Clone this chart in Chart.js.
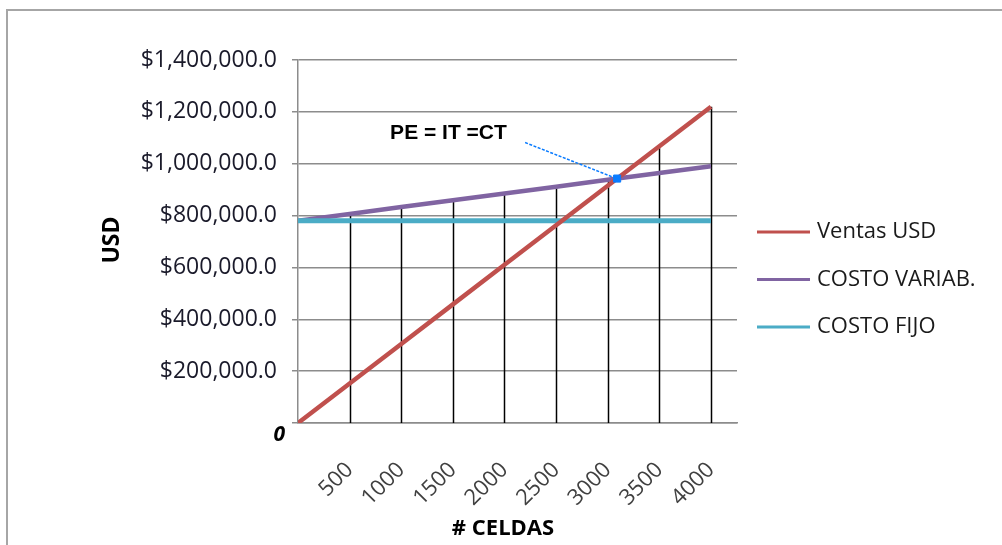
<!DOCTYPE html>
<html>
<head>
<meta charset="utf-8">
<title>Punto de equilibrio</title>
<script src="https://cdn.jsdelivr.net/npm/chart.js@4/dist/chart.umd.min.js"></script>
<style>
    body { margin: 0; background: #fff; }
    #wrap { position: relative; width: 1002px; height: 545px; }
</style>
</head>
<body>
<div id="wrap"><canvas id="equilibrioChart"></canvas></div>
<script>
    // Datos del gráfico
    var celdas = [0, 500, 1000, 1500, 2000, 2500, 3000, 3500, 4000];
    var ventasUSD = [0, 152500, 305000, 457500, 610000, 762500, 915000, 1067500, 1220000];
    var costoVariab = [780000, 806000, 833000, 859000, 885000, 911000, 938000, 964000, 990000];
    var costoFijo = [780000, 780000, 780000, 780000, 780000, 780000, 780000, 780000, 780000];
    var ticksY = [0, 200000, 400000, 600000, 800000, 1000000, 1200000, 1400000];
    var etiquetas = ['Ventas USD', 'COSTO VARIAB.', 'COSTO FIJO'];
    var colores = ['#C0504D', '#8064A2', '#4BACC6'];

    function puntos(serie) {
        return celdas.map(function (c, i) { return { x: c, y: serie[i] }; });
    }

    // Punto de equilibrio: cruce de ventas con costo total
    function cruce() {
        for (var i = 1; i < celdas.length; i++) {
            var d0 = ventasUSD[i - 1] - costoVariab[i - 1];
            var d1 = ventasUSD[i] - costoVariab[i];
            if (d0 < 0 && d1 >= 0) {
                var t = -d0 / (d1 - d0);
                return {
                    x: celdas[i - 1] + t * (celdas[i] - celdas[i - 1]),
                    y: ventasUSD[i - 1] + t * (ventasUSD[i] - ventasUSD[i - 1])
                };
            }
        }
        return null;
    }
    var pe = cruce();

    var FONT = '"Open Sans", sans-serif';

    function moneda(v) {
        return '$' + v.toLocaleString('en-US', { minimumFractionDigits: 1, maximumFractionDigits: 1 });
    }

    var extras = {
        id: 'extras',
        beforeDraw: function (chart) {
            var ctx = chart.ctx;
            ctx.save();
            ctx.strokeStyle = '#a6a6a6';
            ctx.lineWidth = 2;
            ctx.strokeRect(7, 10, 1100, 600);
            ctx.restore();
        },
        beforeDatasetsDraw: function (chart) {
            // líneas de caída desde el valor mayor hasta el eje
            var ctx = chart.ctx, sx = chart.scales.x, sy = chart.scales.y;
            ctx.save();
            ctx.strokeStyle = '#000';
            ctx.lineWidth = 1.5;
            for (var i = 1; i < celdas.length; i++) {
                var top = Math.max(ventasUSD[i], costoVariab[i], costoFijo[i]);
                var x = Math.round(sx.getPixelForValue(celdas[i])) + 0.5;
                ctx.beginPath();
                ctx.moveTo(x, sy.getPixelForValue(top));
                ctx.lineTo(x, sy.getPixelForValue(0));
                ctx.stroke();
            }
            ctx.restore();
        },
        afterDraw: function (chart) {
            var ctx = chart.ctx, sx = chart.scales.x, sy = chart.scales.y;
            ctx.save();

            // títulos de ejes
            ctx.fillStyle = '#000';
            ctx.font = 'bold 22px ' + FONT;
            ctx.textAlign = 'center';
            ctx.textBaseline = 'middle';
            ctx.fillText('# CELDAS', 503, 529);
            ctx.save();
            ctx.translate(112, 240);
            ctx.rotate(-Math.PI / 2);
            ctx.font = 'bold 23px ' + FONT;
            ctx.fillText('USD', 0, 0);
            ctx.restore();

            // cero del eje vertical
            ctx.font = 'italic bold 21px ' + FONT;
            ctx.textAlign = 'right';
            ctx.fillText('0', sx.left - 13, sy.getPixelForValue(0) + 12);

            // leyenda
            ctx.font = '22px ' + FONT;
            ctx.textAlign = 'left';
            for (var i = 0; i < etiquetas.length; i++) {
                var ly = 232 + i * 47.5;
                ctx.strokeStyle = colores[i];
                ctx.lineWidth = 3;
                ctx.beginPath();
                ctx.moveTo(757, ly);
                ctx.lineTo(810, ly);
                ctx.stroke();
                ctx.fillStyle = '#1a1a1a';
                ctx.fillText(etiquetas[i], 817, ly);
            }

            // rótulo del punto de equilibrio
            if (pe) {
                var px = sx.getPixelForValue(pe.x), py = sy.getPixelForValue(pe.y);
                ctx.strokeStyle = '#0a7cff';
                ctx.lineWidth = 1.5;
                ctx.setLineDash([3, 1.5]);
                ctx.beginPath();
                ctx.moveTo(px - 92, py - 36);
                ctx.lineTo(px - 3, py - 1);
                ctx.stroke();
                ctx.setLineDash([]);
                ctx.fillStyle = '#000';
                ctx.font = 'bold 21px "Liberation Sans", Arial, sans-serif';
                ctx.fillText('PE = IT =CT', px - 227, py - 45);
            }
            ctx.restore();
        }
    };

    var ctx = document.getElementById('equilibrioChart').getContext('2d');
    var equilibrioChart = new Chart(ctx, {
        type: 'line',
        data: {
            datasets: [{
                label: etiquetas[0],
                data: puntos(ventasUSD),
                borderColor: colores[0],
                borderWidth: 4.5,
                pointRadius: 0,
                order: 1
            }, {
                label: etiquetas[1],
                data: puntos(costoVariab),
                borderColor: colores[1],
                borderWidth: 4.5,
                pointRadius: 0,
                order: 3
            }, {
                label: etiquetas[2],
                data: puntos(costoFijo),
                borderColor: colores[2],
                borderWidth: 5,
                pointRadius: 0,
                order: 2
            }, {
                type: 'scatter',
                label: 'PE',
                data: pe ? [pe] : [],
                pointStyle: 'rect',
                pointRadius: 5,
                backgroundColor: '#0a7cff',
                borderColor: '#0a7cff',
                order: 0
            }]
        },
        options: {
            responsive: true,
            maintainAspectRatio: false,
            animation: false,
            layout: { padding: { left: 0, top: 60, right: 265, bottom: 0 } },
            plugins: {
                legend: { display: false },
                tooltip: { enabled: false }
            },
            scales: {
                x: {
                    type: 'linear',
                    min: 0,
                    max: 4252,
                    afterBuildTicks: function (scale) {
                        scale.ticks = celdas.slice(1).map(function (v) { return { value: v }; });
                    },
                    afterFit: function (scale) { scale.height = 122; },
                    grid: { display: false, drawTicks: false },
                    border: { display: true, color: '#8c8c8c', width: 1.5 },
                    ticks: {
                        autoSkip: false,
                        minRotation: 45,
                        maxRotation: 45,
                        padding: 34,
                        color: '#404040',
                        font: { family: FONT, size: 22 },
                        callback: function (v) { return String(v); }
                    }
                },
                y: {
                    min: 0,
                    max: 1400000,
                    afterBuildTicks: function (scale) {
                        scale.ticks = ticksY.map(function (v) { return { value: v }; });
                    },
                    afterFit: function (scale) { scale.width = 298; },
                    grid: { color: '#8c8c8c', lineWidth: 1.5, tickLength: 6 },
                    border: { color: '#8c8c8c', width: 1.5 },
                    ticks: {
                        padding: 15,
                        color: '#1a1a2a',
                        font: { family: FONT, size: 23 },
                        callback: function (v) { return v === 0 ? '' : moneda(v); }
                    }
                }
            }
        },
        plugins: [extras]
    });
</script>
</body>
</html>
